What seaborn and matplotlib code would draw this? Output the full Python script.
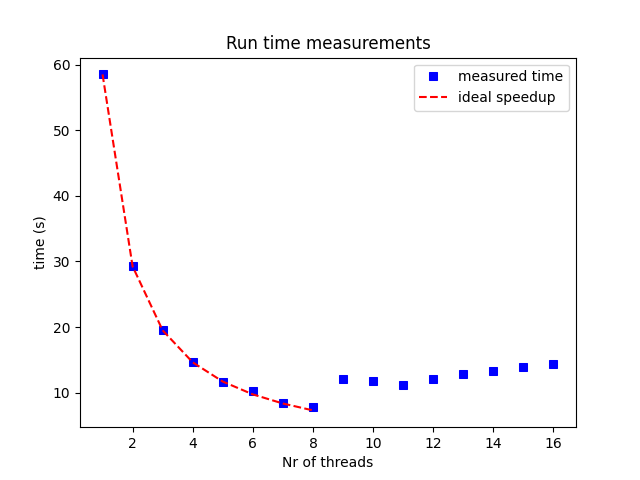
import matplotlib
matplotlib.use("Agg")
import matplotlib.pyplot as plt
import seaborn as sns

threads = [1, 2, 3, 4, 5, 6, 7, 8, 9, 10, 11, 12, 13, 14, 15, 16]
measured = [58.5, 29.3, 19.55, 14.7, 11.7, 10.2, 8.4, 7.8, 12.05, 11.75, 11.15, 12.05, 12.85, 13.3, 13.9, 14.35]
ideal_threads = [1, 2, 3, 4, 5, 6, 7, 8]
ideal = [58.5, 29.25, 19.5, 14.63, 11.7, 9.75, 8.36, 7.31]

fig, ax = plt.subplots(figsize=(6.4, 4.8), dpi=100)
sns.lineplot(x=threads, y=measured, ax=ax, color="blue", marker="s", linestyle="",
             markersize=6, markeredgecolor="blue", label="measured time")
sns.lineplot(x=ideal_threads, y=ideal, ax=ax, color="red", linestyle="--",
             label="ideal speedup")
ax.set_title("Run time measurements")
ax.set_xlabel("Nr of threads")
ax.set_ylabel("time (s)")
ax.legend(loc="upper right")
fig.savefig("out.png", dpi=100)
